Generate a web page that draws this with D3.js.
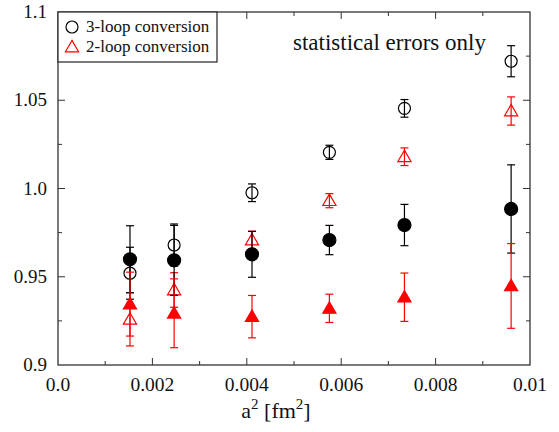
<!DOCTYPE html>
<html><head><meta charset="utf-8">
<script src="https://cdn.jsdelivr.net/npm/d3@7"></script>
<style>body{margin:0;background:#fff} svg text{font-family:"Liberation Serif","Times New Roman",Times,"DejaVu Serif",serif;}</style>
</head><body>
<script>
const a2 = [0.001525, 0.00246, 0.00411, 0.00575, 0.00734, 0.00960];
const open3 = [0.952, 0.968, 0.9976, 1.0205, 1.0454, 1.0721];
const open3Err = [0.0147, 0.0119, 0.005, 0.004, 0.005, 0.0088];
const open2 = [0.9259, 0.9425, 0.9708, 0.9931, 1.018, 1.0439];
const open2Err = [0.0151, 0.0098, 0.005, 0.004, 0.005, 0.008];
const filled3 = [0.9599, 0.9593, 0.9627, 0.9708, 0.9793, 0.9884];
const filled3Err = [0.019, 0.0198, 0.013, 0.0083, 0.0117, 0.025];
const filled2 = [0.9345, 0.9293, 0.9274, 0.9321, 0.9384, 0.9448];
const filled2Err = [0.0181, 0.0195, 0.012, 0.008, 0.0137, 0.024];
const xTicks = [0, 0.002, 0.004, 0.006, 0.008, 0.01];
const xTickLabels = ["0.0", "0.002", "0.004", "0.006", "0.008", "0.01"];
const yTicks = [0.9, 0.95, 1.0, 1.05, 1.1];
const yTickLabels = ["0.9", "0.95", "1.0", "1.05", "1.1"];
const legendLabels = ["3-loop conversion", "2-loop conversion"];

const W = 559, H = 432;
const L = 58, R = 530, T = 12, B = 365;
const serif = "Liberation Serif";
const svg = d3.select("body").append("svg").attr("width", W).attr("height", H);
const x = d3.scaleLinear().domain([0, 0.01]).range([L, R]);
const y = d3.scaleLinear().domain([0.9, 1.1]).range([B, T]);
const axisColor = "#333";

// frame
svg.append("rect").attr("x", L).attr("y", T).attr("width", R - L).attr("height", B - T)
  .attr("fill", "none").attr("stroke", axisColor).attr("stroke-width", 1.3);

// ticks
const xMinor = d3.range(0, 0.0101, 0.001);
const yMinor = d3.range(0.9, 1.1001, 0.025);
xMinor.forEach((v, i) => {
  const len = (i % 2 === 0) ? 7 : 4;
  if (v <= 0 || v >= 0.00999) return;
  svg.append("line").attr("x1", x(v)).attr("x2", x(v)).attr("y1", B).attr("y2", B - len).attr("stroke", axisColor);
  svg.append("line").attr("x1", x(v)).attr("x2", x(v)).attr("y1", T).attr("y2", T + len).attr("stroke", axisColor);
});
yMinor.forEach((v, i) => {
  const len = (i % 2 === 0) ? 7 : 4;
  if (v <= 0.9001 || v >= 1.0999) return;
  svg.append("line").attr("y1", y(v)).attr("y2", y(v)).attr("x1", L).attr("x2", L + len).attr("stroke", axisColor);
  svg.append("line").attr("y1", y(v)).attr("y2", y(v)).attr("x1", R).attr("x2", R - len).attr("stroke", axisColor);
});

// tick labels
svg.selectAll(".xl").data(xTicks).enter().append("text").attr("font-family", serif)
  .attr("x", d => x(d)).attr("y", 391).attr("text-anchor", "middle")
  .attr("font-size", 19.5).attr("fill", "#111").text((d, i) => xTickLabels[i]);
svg.selectAll(".yl").data(yTicks).enter().append("text").attr("font-family", serif)
  .attr("x", 47).attr("y", d => y(d) + 6).attr("text-anchor", "end")
  .attr("font-size", 19).attr("fill", "#111").text((d, i) => yTickLabels[i]);

// x label
const xl = svg.append("text").attr("font-family", serif).attr("x", 276).attr("y", 418).attr("text-anchor", "middle")
  .attr("font-size", 22).attr("fill", "#111");
xl.append("tspan").text("a");
xl.append("tspan").attr("dy", -9).attr("font-size", 15).text("2");
xl.append("tspan").attr("dy", 9).text(" [fm");
xl.append("tspan").attr("dy", -9).attr("font-size", 15).text("2");
xl.append("tspan").attr("dy", 9).text("]");

// statistical text
svg.append("text").attr("font-family", serif).attr("x", 293).attr("y", 50).attr("font-size", 23).attr("fill", "#111")
  .text("statistical errors only");

// markers
const tri = d3.symbol().type(d3.symbolTriangle).size(75);
function series(vals, errs, color, kind, filled) {
  const g = svg.append("g");
  vals.forEach((v, i) => {
    const cx = x(a2[i]);
    const y1 = y(v + errs[i]), y2 = y(v - errs[i]);
    g.append("line").attr("x1", cx).attr("x2", cx).attr("y1", y1).attr("y2", y2).attr("stroke", color).attr("stroke-width", 1.2);
    [y1, y2].forEach(yy => g.append("line").attr("x1", cx - 4).attr("x2", cx + 4).attr("y1", yy).attr("y2", yy).attr("stroke", color).attr("stroke-width", 1.2));
  });
  vals.forEach((v, i) => {
    const cx = x(a2[i]), cy = y(v);
    if (kind === "circle") {
      g.append("circle").attr("cx", cx).attr("cy", cy).attr("r", filled ? 6.5 : 6)
        .attr("fill", filled ? color : "none").attr("stroke", color).attr("stroke-width", 1.2);
    } else {
      g.append("path").attr("d", tri()).attr("transform", `translate(${cx},${cy + 1})`)
        .attr("fill", filled ? color : "none").attr("stroke", color).attr("stroke-width", 1.2);
    }
  });
}
series(open3, open3Err, "#000", "circle", false);
series(open2, open2Err, "#ff0000", "tri", false);
series(filled3, filled3Err, "#000", "circle", true);
series(filled2, filled2Err, "#ff0000", "tri", true);

// legend
svg.append("rect").attr("x", L).attr("y", T).attr("width", 159).attr("height", 50)
  .attr("fill", "#fff").attr("stroke", axisColor).attr("stroke-width", 1.3);
svg.append("circle").attr("cx", 72).attr("cy", 27).attr("r", 6).attr("fill", "none").attr("stroke", "#000").attr("stroke-width", 1.2);
svg.append("path").attr("d", tri()).attr("transform", "translate(72,48)").attr("fill", "none").attr("stroke", "#ff0000").attr("stroke-width", 1.2);
svg.selectAll(".lg").data(legendLabels).enter().append("text").attr("font-family", serif)
  .attr("x", 86).attr("y", (d, i) => 32 + i * 20).attr("font-size", 17).attr("fill", "#111").text(d => d);
</script>
</body></html>
